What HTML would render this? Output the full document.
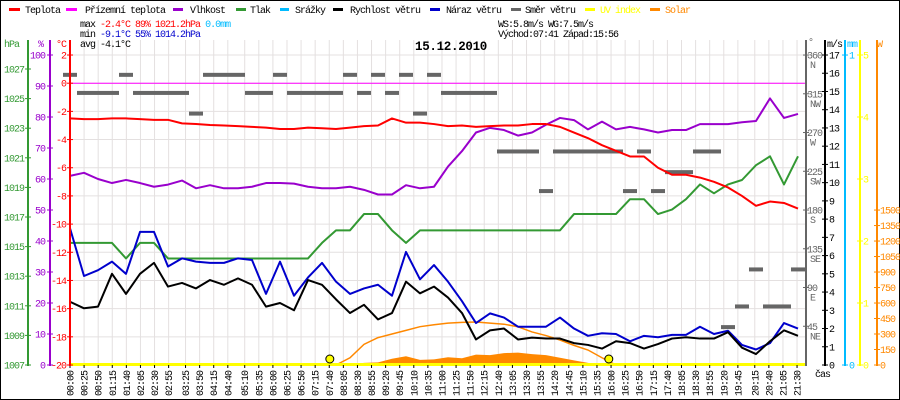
<!DOCTYPE html>
<html><head><meta charset="utf-8"><style>
html,body{margin:0;padding:0;background:#fff}
svg{display:block}
text{font-family:"Liberation Mono",monospace;font-size:10px;letter-spacing:-1px}
</style></head><body>
<svg id="c" width="900" height="400" viewBox="0 0 900 400" xmlns="http://www.w3.org/2000/svg">
<rect x="0.5" y="0.5" width="899" height="399" fill="#fff" stroke="#000"/>
<g id="grid"></g>
<g id="marks"></g>
<g id="axes"></g>
<g>
 <g><rect x="9" y="8" width="11" height="3" fill="#f00"/><text x="25" y="13">Teplota</text></g>
 <g><rect x="66" y="8" width="11" height="3" fill="#f0f"/><text x="85" y="13">Přízemní teplota</text></g>
 <g><rect x="173" y="8" width="10" height="3" fill="#90c"/><text x="190" y="13">Vlhkost</text></g>
 <g><rect x="236" y="8" width="10" height="3" fill="#393"/><text x="250" y="13">Tlak</text></g>
 <g><rect x="280" y="8" width="9" height="3" fill="#0bf"/><text x="295" y="13">Srážky</text></g>
 <g><rect x="333" y="8" width="10" height="3" fill="#000"/><text x="350" y="13">Rychlost větru</text></g>
 <g><rect x="430" y="8" width="10" height="3" fill="#00c"/><text x="446" y="13">Náraz větru</text></g>
 <g><rect x="511" y="8" width="10" height="3" fill="#666"/><text x="525" y="13">Směr větru</text></g>
 <g><rect x="585" y="8" width="10" height="3" fill="#ff0"/><text x="600" y="13" fill="#ff0">UV index</text></g>
 <g><rect x="650" y="8" width="10" height="3" fill="#f80"/><text x="665" y="13" fill="#f80">Solar</text></g>
</g>
<g>
 <text x="80" y="27">max <tspan fill="#f00">-2.4°C  89%  1021.2hPa</tspan>   <tspan fill="#0bf">0.0mm</tspan></text>
 <text x="80" y="37">min <tspan fill="#00c">-9.1°C  55%  1014.2hPa</tspan></text>
 <text x="80" y="47">avg -4.1°C</text>
 <text x="498" y="27">WS:5.8m/s   WG:7.5m/s</text>
 <text x="498" y="37">Východ:07:41 Západ:15:56</text>
</g>
<text x="415" y="50" style="font-size:12.5px;font-weight:bold;letter-spacing:-0.3px">15.12.2010</text>
</svg>
<script>
const temp=[-2.5,-2.55,-2.55,-2.5,-2.5,-2.55,-2.6,-2.6,-2.85,-2.9,-2.97,-3.0,-3.05,-3.1,-3.15,-3.25,-3.25,-3.15,-3.2,-3.25,-3.15,-3.05,-3.0,-2.5,-2.8,-2.8,-2.9,-3.05,-3.0,-3.1,-3.05,-3.0,-3.0,-2.9,-2.9,-3.1,-3.5,-3.9,-4.4,-4.8,-5.2,-5.2,-6.0,-6.5,-6.5,-6.7,-7.0,-7.4,-8.0,-8.7,-8.4,-8.5,-8.9];
const humidity=[61,62,60,58.7,59.7,58.7,57.5,58.2,59.5,57,58,57,57,57.5,58.7,58.7,58.5,57.5,57,57,57.5,56.5,55,55,58,57,57.5,64,69,75,76.5,75.8,74,75,77.5,79.7,79,76,78.5,76,76.8,76,75,75.8,75.8,77.7,77.7,77.7,78.3,78.7,86,79.7,81];
const pressure=[1015.25,1015.25,1015.25,1015.25,1014.2,1015.25,1015.25,1014.2,1014.2,1014.2,1014.2,1014.2,1014.2,1014.2,1014.2,1014.2,1014.2,1014.2,1015.25,1016.1,1016.1,1017.2,1017.2,1016.1,1015.25,1016.1,1016.1,1016.1,1016.1,1016.1,1016.1,1016.1,1016.1,1016.1,1016.1,1016.1,1017.2,1017.2,1017.2,1017.2,1018.2,1018.2,1017.2,1017.5,1018.2,1019.2,1018.6,1019.2,1019.5,1020.5,1021.1,1019.2,1021.1];
const windSpeed=[3.47,3.11,3.2,5.0,3.9,5.0,5.6,4.3,4.5,4.2,4.66,4.4,4.75,4.4,3.2,3.4,3.0,4.66,4.4,3.6,2.85,3.3,2.5,2.85,4.57,3.93,4.3,3.7,2.85,1.4,1.9,2.0,1.4,1.5,1.45,1.45,1.2,1.1,0.9,1.3,1.2,0.9,1.15,1.45,1.52,1.45,1.45,1.8,0.95,0.6,1.3,1.9,1.6];
const windGust=[7.5,4.88,5.2,5.67,5.0,7.3,7.3,5.4,5.85,5.67,5.6,5.6,5.85,5.76,3.9,5.67,3.8,4.8,5.6,4.57,3.9,4.2,4.4,3.8,6.2,4.7,5.48,4.57,3.5,2.3,2.83,2.6,2.1,2.1,2.1,2.6,2.0,1.6,1.74,1.7,1.3,1.6,1.52,1.65,1.65,2.1,1.7,1.88,1.1,0.85,1.2,2.3,2.0];
const windDir=[337,316,316,316,337,316,316,316,316,292,337,337,337,316,316,337,316,316,316,316,337,316,337,316,337,292,337,316,316,316,316,248,248,248,202,248,248,248,248,248,202,248,202,224,224,248,248,44,68,111,68,68,111];
const solarTheory=[0,0,0,0,0,0,0,0,0,0,0,0,0,0,0,0,0,0,0,0,70,200,265,300,335,371,390,405,413,416,405,395,370,320,285,242,190,145,70,0,0,0,0,0,0,0,0,0,0,0,0,0,0];
const solarMeasured=[0,0,0,0,0,0,0,0,0,0,0,0,0,0,0,0,0,0,0,0,5,20,25,60,85,50,55,75,65,100,95,115,120,105,95,70,45,20,0,0,0,0,0,0,0,0,0,0,0,0,0,0,0];
const apparentTemp=[0,0];
const apparentTimes=[0,1304];
const tickLabels=["00:00","00:25","00:50","01:15","01:40","02:05","02:30","02:55","03:25","03:50","04:15","04:40","05:10","05:35","06:00","06:25","06:50","07:15","07:40","08:05","08:30","08:55","09:20","09:45","10:10","10:35","11:00","11:25","11:50","12:15","12:40","13:05","13:30","13:55","14:20","14:45","15:10","15:35","16:00","16:25","16:50","17:15","17:40","18:05","18:30","18:55","19:20","19:45","20:15","20:40","21:05","21:30"];
const sunTimes=["07:41","15:56"];
const times=temp.map((_,i)=>i*24.84);

const NS="http://www.w3.org/2000/svg";
const X0=70,X1=805,Y0=40,YB=365,PPM=0.5636;
const x=m=>X0+m*PPM;
const yT=t=>YB-(t+20)*14.09;
const yH=h=>YB-h*3.1;
const yP=p=>YB-(p-1007)*14.8;
const yW=w=>YB-w*18.235;
const yD=d=>YB-d*0.861;
const yS=s=>YB-s*0.1033;
const yUV=u=>YB-u*62;
const mins=s=>{const [h,m]=s.split(':');return +h*60+ +m;};
function el(tag,attrs,parent){const e=document.createElementNS(NS,tag);for(const k in attrs)e.setAttribute(k,attrs[k]);parent.appendChild(e);return e;}
const grid=document.getElementById('grid'),marks=document.getElementById('marks'),axes=document.getElementById('axes');

for(let t=-20;t<=2;t+=2){const l=el('line',{x1:X0,x2:X1,y1:yT(t),y2:yT(t),stroke:'#e4e0e0','stroke-width':1},grid);

}
tickLabels.forEach(s=>{const xx=x(mins(s));
const l=el('line',{x1:xx,x2:xx,y1:Y0,y2:YB,stroke:'#e4e0e0','stroke-width':1},grid);


const tk=el('line',{x1:xx,x2:xx,y1:YB,y2:YB+3,stroke:'#000','stroke-width':1},axes);


const tx=el('text',{x:xx+3.5,y:396,transform:`rotate(-90 ${xx+3.5} 396)`},axes);
tx.textContent=s;

});

let d='M'+x(times[0])+','+YB;
solarMeasured.forEach((v,i)=>{d+=' L'+x(times[i])+','+yS(v);});
d+=' L'+x(times[times.length-1])+','+YB+' Z';
const sa=el('path',{d:d,fill:'#f80',stroke:'none'},marks);


let pts=[];solarTheory.forEach((v,i)=>{if(v>0||(solarTheory[i-1]>0)||(solarTheory[i+1]>0))pts.push(x(times[i])+','+yS(v));});
const st=el('polyline',{points:pts.join(' '),fill:'none',stroke:'#f80','stroke-width':1.5},marks);



windDir.forEach((v,i)=>{const r=el('rect',{x:x(times[i])-7,y:yD(v)-2,width:14,height:4,fill:'#666'},marks);

});

function line(arr,fy,color,name,w){const p=arr.map((v,i)=>x(times[i])+','+fy(v)).join(' ');
const l=el('polyline',{points:p,fill:'none',stroke:color,'stroke-width':w,'stroke-linejoin':'round'},marks);

}
const ap=el('polyline',{points:apparentTimes.map((t,i)=>x(t)+','+yT(apparentTemp[i])).join(' '),fill:'none',stroke:'#f0f','stroke-width':1},marks);


line(pressure,yP,'#393','pressure-line',2);
line(humidity,yH,'#90c','humidity-line',2);
line(windGust,yW,'#00c','wind-gust-line',2);
line(windSpeed,yW,'#000','wind-speed-line',2);
line(temp,yT,'#f00','temperature-line',2);

const uv=el('line',{x1:X0,x2:X1,y1:YB-0.5,y2:YB-0.5,stroke:'#ff0','stroke-width':3},marks);


sunTimes.forEach((s,i)=>{const c=el('circle',{cx:x(mins(s)),cy:359,r:4,fill:'#ff0',stroke:'#000','stroke-width':1},marks);

});

function vaxis(xx,color,name,top){const l=el('line',{x1:xx,x2:xx,y1:top,y2:YB+1,stroke:color,'stroke-width':2},axes);

}
function lab(xx,yy,s,color,anchor,name){const t=el('text',{x:xx,y:yy,fill:color,'text-anchor':anchor},axes);t.textContent=s;

return t;}
function tick(x1,x2,yy,color){const l=el('line',{x1:x1,x2:x2,y1:yy,y2:yy,stroke:color,'stroke-width':1},axes);

}
vaxis(28,'#393','pressure-axis',Y0);vaxis(50,'#90c','humidity-axis',Y0);vaxis(X0,'#f00','temperature-axis',Y0);
for(let p=1007;p<=1027;p+=2){tick(25,31,yP(p),'#393');lab(24,yP(p)+3.5,String(p),'#393','end','pressure-tick-label');}
for(let h=0;h<=100;h+=10){tick(47,53,yH(h),'#90c');lab(45,yH(h)+3.5,String(h),'#90c','end','humidity-tick-label');}
for(let t=-20;t<=2;t+=2){tick(67,73,yT(t),'#f00');lab(66,yT(t)+3.5,String(t),'#f00','end','temperature-tick-label');}
lab(4,47,'hPa','#393','start','pressure-axis-title');lab(38,47,'%','#90c','start','humidity-axis-title');lab(56,47,'°C','#f00','start','temperature-axis-title');
vaxis(806,'#666','wind-direction-axis',Y0);vaxis(825,'#000','wind-speed-axis',Y0);vaxis(845,'#0bf','rain-axis',Y0);vaxis(860,'#ff0','uv-axis',Y0);vaxis(877,'#f80','solar-axis',Y0);
const dirs=[[360,'N'],[315,'NW'],[270,'W'],[225,'SW'],[180,'S'],[135,'SE'],[90,'E'],[45,'NE']];
dirs.forEach(([v,n])=>{tick(803,809,yD(v),'#666');lab(807,yD(v)+3.5,String(v),'#666','start','direction-tick-label');lab(810,yD(v)+13,n,'#666','start','direction-name-label');});
for(let w=0;w<=17;w++){tick(822,828,yW(w),'#000');lab(829,yW(w)+3.5,String(w),'#000','start','wind-speed-tick-label');}
tick(842,848,yT(2),'#0bf');lab(849,yT(2)+3.5,'1','#0bf','start','rain-tick-label');tick(842,848,YB,'#0bf');lab(849,YB+3.5,'0','#0bf','start','rain-tick-label');
for(let u=0;u<=5;u++){tick(857,863,yUV(u),'#ff0');lab(863,yUV(u)+3.5,String(u),'#ff0','start','uv-tick-label');}
for(let s=0;s<=1500;s+=150){tick(874,880,yS(s),'#f80');lab(880,yS(s)+3.5,String(s),'#f80','start','solar-tick-label');}
lab(808,45,'°','#666','start','direction-axis-title');lab(827,47,'m/s','#000','start','wind-speed-axis-title');lab(847,47,'mm','#0bf','start','rain-axis-title');lab(877,47,'W','#f80','start','solar-axis-title');
lab(815,377,'čas','#000','start','x-axis-title');
</script>
</body></html>
